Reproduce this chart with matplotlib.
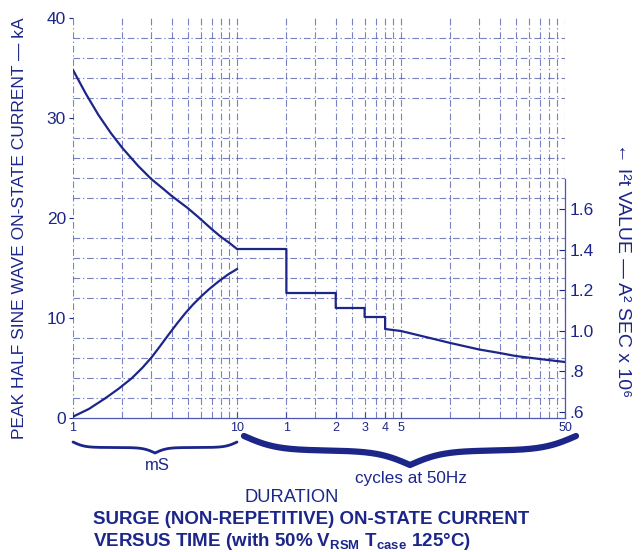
import numpy as np
import matplotlib
matplotlib.use("Agg")
import matplotlib.pyplot as plt
from matplotlib.ticker import FixedLocator, LogLocator, MultipleLocator, NullFormatter
from matplotlib.lines import Line2D

plt.rcParams['font.family'] = ['Liberation Sans', 'DejaVu Sans']
plt.rcParams['mathtext.fontset'] = 'custom'
plt.rcParams['mathtext.rm'] = 'Liberation Sans'
plt.rcParams['mathtext.bf'] = 'Liberation Sans:bold'

# ---------------- data ----------------
# peak half-sine current (kA) vs duration in ms (1 cycle at 50 Hz = 20 ms)
peak_ms = [1, 1.2, 1.43, 1.7, 2, 2.5, 3, 3.5, 4, 5, 5.8, 7, 8, 9, 10,
           20, 20, 40, 40, 60, 60, 80, 80, 100,
           150, 200, 300, 400, 500, 700, 1000]
peak_kA = [34.8, 32.4, 30.3, 28.5, 27.0, 25.2, 23.9, 23.0, 22.2, 21.0, 20.1, 18.9, 18.1, 17.5, 16.9,
           16.9, 12.5, 12.5, 11.0, 11.0, 10.1, 10.1, 8.9, 8.7,
           8.0, 7.5, 6.85, 6.5, 6.2, 5.9, 5.6]
# I2t value (A^2 s x 1e6) vs duration in ms
i2t_ms = [1.0, 1.25, 1.57, 1.9, 2.28, 2.65, 3.02, 3.4, 3.81, 4.3, 4.82, 5.4, 6.09, 6.8, 7.69, 8.8, 10]
i2t_val = [0.577, 0.615, 0.667, 0.715, 0.766, 0.818, 0.870, 0.925, 0.979, 1.035, 1.085, 1.130,
           1.172, 1.207, 1.242, 1.277, 1.304]

left_ticks = [0, 10, 20, 30, 40]
right_ticks = [0.6, 0.8, 1.0, 1.2, 1.4, 1.6]
right_labels = ['.6', '.8', '1.0', '1.2', '1.4', '1.6']
x_ticks_ms = [1, 10, 20, 40, 60, 80, 100, 1000]
x_labels = ['1', '10', '1', '2', '3', '4', '5', '50']

NAVY = '#1c2689'
GRID = '#4c57b0'

W, H = 643, 552
fig = plt.figure(figsize=(W / 100, H / 100), dpi=100)
fig.patch.set_facecolor('white')

def fx(px):
    return px / W

def fy(py):
    return 1 - py / H

ax = fig.add_axes([fx(73), fy(418), fx(565) - fx(73), fy(18) - fy(418)])
ax.set_xscale('log')
ax.set_xlim(1, 1000)
ax.set_ylim(0, 40)

# grid
ax.xaxis.set_major_locator(FixedLocator(x_ticks_ms))
ax.xaxis.set_minor_locator(LogLocator(base=10, subs=np.arange(1, 10), numticks=20))
ax.xaxis.remove_overlapping_locs = False
ax.xaxis.set_minor_formatter(NullFormatter())
ax.set_xticklabels(x_labels)
ax.yaxis.set_major_locator(FixedLocator(left_ticks))
ax.yaxis.set_minor_locator(MultipleLocator(2))
ax.grid(which='minor', color=GRID, lw=0.8, ls=(0, (6, 2.5, 1.2, 2.5)), alpha=0.75)
ax.grid(which='major', visible=False)
ax.set_axisbelow(True)

ax.tick_params(axis='x', which='major', length=4, direction='in', colors=NAVY,
               labelsize=9, pad=3)
ax.tick_params(axis='x', which='minor', length=0)
ax.tick_params(axis='y', which='major', length=3, direction='out', colors=NAVY,
               labelsize=12.5, pad=2)
ax.tick_params(axis='y', which='minor', length=0)
for lab in ax.get_xticklabels():
    lab.set_color(NAVY)

for s in ['top', 'left', 'right']:
    ax.spines[s].set_visible(False)
ax.spines['bottom'].set_color(GRID)
ax.spines['bottom'].set_linewidth(0.9)

ax.plot(peak_ms, peak_kA, color=NAVY, lw=1.6, solid_joinstyle='round')

ax2 = ax.twinx()
ax2.set_ylim(0.5704, 2.541)
ax2.set_yticks(right_ticks)
ax2.set_yticklabels(right_labels)
ax2.tick_params(axis='y', length=4, direction='in', colors=NAVY, labelsize=12.5, pad=3)
for s in ['top', 'left', 'bottom']:
    ax2.spines[s].set_visible(False)
ax2.spines['right'].set_bounds(0.5704, 1.75)
ax2.spines['right'].set_color(GRID)
ax2.spines['right'].set_linewidth(0.9)
ax2.plot(i2t_ms, i2t_val, color=NAVY, lw=1.6, solid_joinstyle='round')

# axis titles
fig.text(fx(20), fy(228), 'PEAK HALF SINE WAVE ON-STATE CURRENT \u2014 kA', rotation=90,
         ha='center', va='center', color=NAVY, fontsize=12.5)
fig.text(fx(622), fy(270), '\u2190 I\u00b2t VALUE \u2014 A\u00b2 SEC x 10\u2076', rotation=-90,
         ha='center', va='center', color=NAVY, fontsize=14)

# braces
def brace(x0, x1, y_end, y_tip, k, lw):
    u = np.linspace(0, 1, 200)
    sig = lambda z: 1 / (1 + np.exp(-z))
    g = sig(k * u) - 0.5 + sig(k * (u - 1))
    g = (g - g[0]) / (g[-1] - g[0])
    xm = (x0 + x1) / 2
    xl = x0 + (xm - x0) * u
    xr = x1 - (x1 - xm) * u
    yy = y_end + (y_tip - y_end) * g
    xs = np.concatenate([xl, xr[::-1]])
    ys = np.concatenate([yy, yy[::-1]])
    fig.add_artist(Line2D(fx(xs), fy(ys), color=NAVY, lw=lw, transform=fig.transFigure,
                          solid_capstyle='round'))

brace(73, 237, 442, 453, 14, 2.0)
brace(244, 576, 436, 465, 10, 4.5)

fig.text(fx(157), fy(465), 'mS', ha='center', va='center', color=NAVY, fontsize=12)
fig.text(fx(411), fy(478), 'cycles at 50Hz', ha='center', va='center', color=NAVY, fontsize=12.3)
fig.text(fx(292), fy(497), 'DURATION', ha='center', va='center', color=NAVY, fontsize=13.2)
fig.text(fx(93), fy(520), 'SURGE (NON-REPETITIVE) ON-STATE CURRENT', ha='left', va='center',
         color=NAVY, fontsize=13.5, fontweight='bold')
fig.text(fx(93), fy(541), r'VERSUS TIME (with 50% V$_{\mathbf{RSM}}$ T$_{\mathbf{case}}$ 125°C)',
         ha='left', va='center', color=NAVY, fontsize=13.5, fontweight='bold')

fig.savefig('out.png', dpi=100, facecolor='white')
